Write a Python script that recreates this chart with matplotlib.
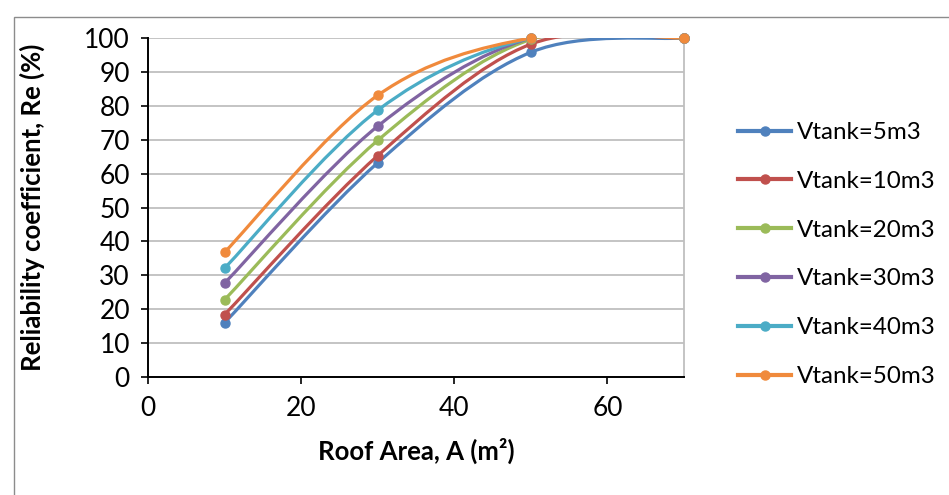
import matplotlib
matplotlib.use("Agg")
import numpy as np
import matplotlib.pyplot as plt
from matplotlib.path import Path
from matplotlib.patches import PathPatch, Rectangle
from matplotlib.lines import Line2D

plt.rcParams["font.family"] = ["Lato", "DejaVu Sans"]

roof_area = [10, 30, 50, 70]
tank_labels = ["Vtank=5m3", "Vtank=10m3", "Vtank=20m3",
               "Vtank=30m3", "Vtank=40m3", "Vtank=50m3"]
re_5 = [16.0, 63.2, 95.8, 100]
re_10 = [18.4, 65.3, 98.2, 100]
re_20 = [22.8, 69.8, 99.6, 100]
re_30 = [27.7, 74.0, 100, 100]
re_40 = [32.1, 78.7, 100, 100]
re_50 = [36.8, 83.1, 100, 100]
series = [re_5, re_10, re_20, re_30, re_40, re_50]
colors = ["#4F81BD", "#C0504D", "#9BBB59", "#8064A2", "#4BACC6", "#F08A3C"]


def smooth_path(x, y):
    # cubic Bezier segments through the points (spreadsheet-style smoothing)
    pts = np.column_stack([x, y]).astype(float)
    padded = np.vstack([pts[0], pts, pts[-1]])
    verts = [pts[0]]
    codes = [Path.MOVETO]
    for i in range(len(pts) - 1):
        p0, p1, p2, p3 = padded[i], padded[i + 1], padded[i + 2], padded[i + 3]
        c1 = p1 + (p2 - p0) / 6.0
        c2 = p2 - (p3 - p1) / 6.0
        verts += [c1, c2, p2]
        codes += [Path.CURVE4] * 3
    return Path(verts, codes)


fig = plt.figure(figsize=(9.49, 4.95), dpi=100)
fig.patches.append(Rectangle((14 / 949, -0.02), 1.0, 0.9657 + 0.02,
                             transform=fig.transFigure, fill=False,
                             edgecolor="#8C8C8C", linewidth=1.0))
ax = fig.add_axes([0.156, 0.2384, 0.5648, 0.6848])

for vals, col, lab in zip(series, colors, tank_labels):
    ax.add_patch(PathPatch(smooth_path(roof_area, vals), fill=False,
                           edgecolor=col, linewidth=2.3, zorder=3,
                           capstyle="round"))
    ax.plot(roof_area, vals, linestyle="none", marker="o", markersize=6.5,
            color=col, zorder=4, clip_on=False)

ax.set_xlim(0, 70)
ax.set_ylim(0, 100)
ax.set_xticks([0, 20, 40, 60])
ax.set_yticks(range(0, 101, 10))
ax.yaxis.grid(True, color="#BFBFBF", linewidth=1.3)
ax.set_axisbelow(True)
ax.tick_params(axis="both", direction="out", length=5, width=1.2,
               labelsize=19, colors="black")
ax.tick_params(axis="y", pad=8)
ax.tick_params(axis="x", pad=9)
ax.spines["top"].set_visible(False)
ax.spines["right"].set_color("#BFBFBF")
ax.spines["right"].set_linewidth(1.3)
ax.spines["left"].set_linewidth(1.4)
ax.spines["bottom"].set_linewidth(1.4)

ax.set_xlabel("Roof Area, A (m²)", fontsize=18.5, fontweight="bold", labelpad=12)
ax.set_ylabel("Reliability coefficient, Re (%)", fontsize=18.5,
              fontweight="bold", labelpad=28)

handles = [Line2D([], [], color=c, linewidth=3, marker="o", markersize=6.5)
           for c in colors]
ax.legend(handles, tank_labels, loc="upper left",
          bbox_to_anchor=(738 / 949, 1 - 122 / 495),
          bbox_transform=fig.transFigure, frameon=False, fontsize=17.4,
          labelspacing=1.15, handlelength=2.2, handletextpad=0.25,
          borderpad=0, borderaxespad=0)

fig.savefig("out.png", dpi=100)
